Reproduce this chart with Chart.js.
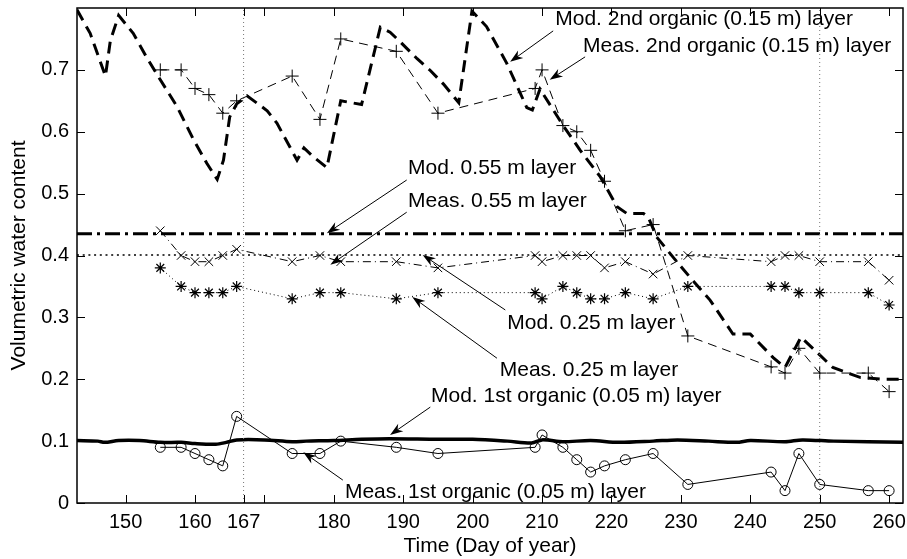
<!DOCTYPE html>
<html>
<head>
<meta charset="utf-8">
<script src="https://cdn.jsdelivr.net/npm/chart.js@4/dist/chart.umd.min.js"></script>
<style>
  html, body { margin: 0; padding: 0; background: #fff; }
  #wrap { width: 907px; height: 559px; }
</style>
</head>
<body>
<div id="wrap"><canvas id="soil-chart" width="907" height="559"></canvas></div>
<script>
// --- data ---
const measDays = [155, 158, 160, 162, 164, 166, 174, 178, 181, 189, 195, 209, 210, 213, 215, 217, 219, 222, 226, 231, 243, 245, 247, 250, 257, 260];
const meas2nd = [0.70, 0.70, 0.67, 0.66, 0.63, 0.65, 0.69, 0.62, 0.75, 0.73, 0.63, 0.67, 0.70, 0.61, 0.60, 0.57, 0.52, 0.44, 0.45, 0.27, 0.22, 0.21, 0.25, 0.21, 0.21, 0.18];
const meas055 = [0.44, 0.40, 0.39, 0.39, 0.40, 0.41, 0.39, 0.40, 0.39, 0.39, 0.38, 0.40, 0.39, 0.40, 0.40, 0.40, 0.38, 0.39, 0.37, 0.40, 0.39, 0.40, 0.40, 0.39, 0.39, 0.36];
const meas025 = [0.38, 0.35, 0.34, 0.34, 0.34, 0.35, 0.33, 0.34, 0.34, 0.33, 0.34, 0.34, 0.33, 0.35, 0.34, 0.33, 0.33, 0.34, 0.33, 0.35, 0.35, 0.35, 0.34, 0.34, 0.34, 0.32];
const meas1st = [0.09, 0.09, 0.08, 0.07, 0.06, 0.14, 0.08, 0.08, 0.10, 0.09, 0.08, 0.09, 0.11, 0.09, 0.07, 0.05, 0.06, 0.07, 0.08, 0.03, 0.05, 0.02, 0.08, 0.03, 0.02, 0.02];

const mod2Days = [143, 144.9, 146.3, 147.1, 147.8, 149, 151.1, 153, 155, 157.4, 159.8, 161.7, 163.2, 164.1, 165, 166, 167.5, 170.4, 171.8, 174.7, 175.7, 177, 179, 181, 184, 186.7, 188.1, 189.6, 192, 193.9, 195.8, 198, 199.9, 202, 204.9, 207.8, 208.6, 209.7, 213.1, 215.5, 218.4, 220.8, 222.2, 224.6, 225.3, 226.5, 228.9, 231.3, 234.2, 237.5, 240, 243.3, 245, 247.3, 251.9, 255.8, 259, 262];
const mod2Vals = [0.797, 0.759, 0.715, 0.69, 0.747, 0.788, 0.759, 0.721, 0.684, 0.641, 0.587, 0.549, 0.523, 0.554, 0.624, 0.645, 0.658, 0.634, 0.614, 0.554, 0.574, 0.56, 0.542, 0.65, 0.644, 0.769, 0.761, 0.745, 0.718, 0.699, 0.677, 0.647, 0.795, 0.77, 0.711, 0.639, 0.635, 0.669, 0.609, 0.570, 0.527, 0.479, 0.468, 0.468, 0.462, 0.430, 0.397, 0.365, 0.328, 0.273, 0.273, 0.235, 0.219, 0.268, 0.219, 0.203, 0.2, 0.2];

const mod1Days = [143, 146, 147, 149, 152, 155, 158, 160, 163, 164.5, 166, 170, 174, 176, 180, 184, 188, 195, 200, 205, 208.5, 210, 213, 217, 221, 226, 229.5, 234, 238, 240, 245, 247.5, 252, 262];
const mod1Vals = [0.101, 0.100, 0.098, 0.101, 0.101, 0.098, 0.098, 0.096, 0.095, 0.098, 0.102, 0.102, 0.099, 0.100, 0.101, 0.103, 0.104, 0.103, 0.103, 0.100, 0.097, 0.102, 0.099, 0.101, 0.098, 0.100, 0.102, 0.100, 0.098, 0.101, 0.099, 0.102, 0.100, 0.098];

const mod055 = 0.435;
const mod025 = 0.401;
const dayRange = [143, 262];
const refDays = [167, 250];

const xTicks = [150, 160, 167, 170, 180, 190, 200, 210, 220, 230, 240, 250, 260];
const xHidden = [170];
const yTicks = [0, 0.1, 0.2, 0.3, 0.4, 0.5, 0.6, 0.7];

// text labels: text start (day, value), arrow start and arrow tip in data units
const notes = [
  { text: 'Mod. 2nd organic (0.15 m) layer', at: [211.9, 0.782], from: [211.6, 0.763], to: [205.4, 0.713] },
  { text: 'Meas. 2nd organic (0.15 m) layer', at: [215.9, 0.739], from: [216.2, 0.721], to: [211.1, 0.684] },
  { text: 'Mod. 0.55 m layer', at: [190.7, 0.541], from: [190.5, 0.522], to: [179.0, 0.436] },
  { text: 'Meas. 0.55 m layer', at: [190.7, 0.488], from: [190.5, 0.470], to: [179.5, 0.385] },
  { text: 'Mod. 0.25 m layer', at: [205.0, 0.291], from: [204.7, 0.312], to: [192.8, 0.401] },
  { text: 'Meas. 0.25 m layer', at: [203.9, 0.215], from: [203.5, 0.234], to: [191.3, 0.333] },
  { text: 'Mod. 1st organic (0.05 m) layer', at: [194.0, 0.173], from: [193.9, 0.155], to: [188.1, 0.110] },
  { text: 'Meas. 1st organic (0.05 m) layer', at: [181.6, 0.018], from: [181.3, 0.037], to: [175.6, 0.082] }
];

const FONT = "'Liberation Sans', Arial, Helvetica, sans-serif";

function pts(xs, ys) {
  return xs.map((x, i) => ({ x: x, y: ys[i] }));
}
function flat(v) {
  return [{ x: dayRange[0], y: v }, { x: dayRange[1], y: v }];
}

const datasets = [];

// vertical reference lines (dotted grey)
refDays.forEach(d => {
  datasets.push({
    data: [{ x: d, y: 0 }, { x: d, y: 0.8 }],
    borderColor: '#777', borderWidth: 1, borderDash: [1, 3],
    pointRadius: 0, showLine: true
  });
});

datasets.push({
  label: 'Mod. 0.55 m',
  data: flat(mod055),
  borderColor: '#000', borderWidth: 3, borderDash: [15, 5, 3, 5],
  pointRadius: 0, showLine: true
});
datasets.push({
  label: 'Mod. 0.25 m',
  data: flat(mod025),
  borderColor: '#000', borderWidth: 1.5, borderDash: [2, 3.7],
  pointRadius: 0, showLine: true
});
datasets.push({
  label: 'Mod. 1st organic',
  data: pts(mod1Days, mod1Vals),
  borderColor: '#000', borderWidth: 3.5, tension: 0.3,
  pointRadius: 0, showLine: true
});
datasets.push({
  label: 'Mod. 2nd organic',
  data: pts(mod2Days, mod2Vals),
  borderColor: '#000', borderWidth: 3, borderDash: [12, 7],
  pointRadius: 0, showLine: true
});
datasets.push({
  label: 'Meas. 2nd organic',
  data: pts(measDays, meas2nd),
  borderColor: '#000', borderWidth: 1, borderDash: [9, 6],
  pointStyle: 'cross', pointRadius: 6.5, pointBorderWidth: 1, pointBorderColor: '#000',
  showLine: true
});
datasets.push({
  label: 'Meas. 0.55 m',
  data: pts(measDays, meas055),
  borderColor: '#000', borderWidth: 1, borderDash: [8, 4, 1, 4],
  pointStyle: 'crossRot', pointRadius: 6, pointBorderWidth: 1, pointBorderColor: '#000',
  showLine: true
});
datasets.push({
  label: 'Meas. 0.25 m',
  data: pts(measDays, meas025),
  borderColor: '#000', borderWidth: 1, borderDash: [1, 3],
  pointStyle: 'star', pointRadius: 5.5, pointBorderWidth: 1.2, pointBorderColor: '#000',
  showLine: true
});
datasets.push({
  label: 'Meas. 1st organic',
  data: pts(measDays, meas1st),
  borderColor: '#000', borderWidth: 1,
  pointStyle: 'circle', pointRadius: 5, pointBorderWidth: 1, pointBorderColor: '#000',
  pointBackgroundColor: 'rgba(0,0,0,0)',
  showLine: true
});

// box, inward ticks and the arrow labels
const framePlugin = {
  id: 'frame',
  afterDatasetsDraw(chart) {
    const ctx = chart.ctx;
    const a = chart.chartArea;
    const xs = chart.scales.x, ys = chart.scales.y;
    const tl = 8;
    ctx.save();
    ctx.strokeStyle = '#000';
    ctx.lineWidth = 1;
    xTicks.forEach(v => {
      const px = Math.round(xs.getPixelForValue(v)) + 0.5;
      ctx.beginPath();
      ctx.moveTo(px, a.bottom); ctx.lineTo(px, a.bottom - tl);
      ctx.moveTo(px, a.top); ctx.lineTo(px, a.top + tl);
      ctx.stroke();
    });
    yTicks.forEach(v => {
      const py = Math.round(ys.getPixelForValue(v)) + 0.5;
      ctx.beginPath();
      ctx.moveTo(a.left, py); ctx.lineTo(a.left + tl, py);
      ctx.moveTo(a.right, py); ctx.lineTo(a.right - tl, py);
      ctx.stroke();
    });
    ctx.lineWidth = 1.5;
    ctx.strokeRect(a.left, a.top, a.right - a.left, a.bottom - a.top);

    // notes
    ctx.fillStyle = '#000';
    ctx.font = '21px ' + FONT;
    ctx.textAlign = 'left';
    ctx.textBaseline = 'middle';
    notes.forEach(n => {
      ctx.fillText(n.text, xs.getPixelForValue(n.at[0]), ys.getPixelForValue(n.at[1]));
      const x0 = xs.getPixelForValue(n.from[0]), y0 = ys.getPixelForValue(n.from[1]);
      const x1 = xs.getPixelForValue(n.to[0]), y1 = ys.getPixelForValue(n.to[1]);
      const ang = Math.atan2(y1 - y0, x1 - x0);
      const hl = 13, hw = 4.5;
      ctx.lineWidth = 1;
      ctx.beginPath();
      ctx.moveTo(x0, y0);
      ctx.lineTo(x1 - Math.cos(ang) * hl * 0.6, y1 - Math.sin(ang) * hl * 0.6);
      ctx.stroke();
      ctx.beginPath();
      ctx.moveTo(x1, y1);
      ctx.lineTo(x1 - Math.cos(ang) * hl - Math.sin(ang) * hw, y1 - Math.sin(ang) * hl + Math.cos(ang) * hw);
      ctx.lineTo(x1 - Math.cos(ang) * hl * 0.7, y1 - Math.sin(ang) * hl * 0.7);
      ctx.lineTo(x1 - Math.cos(ang) * hl + Math.sin(ang) * hw, y1 - Math.sin(ang) * hl - Math.cos(ang) * hw);
      ctx.closePath();
      ctx.fill();
    });
    ctx.restore();
  }
};

new Chart(document.getElementById('soil-chart').getContext('2d'), {
  type: 'scatter',
  data: { datasets: datasets },
  options: {
    responsive: false,
    animation: false,
    layout: { autoPadding: false, padding: { left: 0, right: 4, top: 8, bottom: 0 } },
    plugins: { legend: { display: false }, tooltip: { enabled: false } },
    scales: {
      x: {
        type: 'linear', min: dayRange[0], max: dayRange[1],
        afterBuildTicks: s => { s.ticks = xTicks.map(v => ({ value: v })); },
        afterFit: s => { s.height = 56; s.paddingLeft = 0; s.paddingRight = 0; },
        grid: { display: false, drawTicks: false },
        border: { display: false },
        ticks: {
          color: '#000', padding: 7, autoSkip: false, maxRotation: 0,
          font: { family: FONT, size: 20 },
          callback: v => xHidden.includes(v) ? '' : String(v)
        },
        title: { display: true, text: 'Time (Day of year)', color: '#000', padding: { top: 2, bottom: 0 }, font: { family: FONT, size: 21 } }
      },
      y: {
        type: 'linear', min: 0, max: 0.8,
        afterBuildTicks: s => { s.ticks = yTicks.map(v => ({ value: v })); },
        afterFit: s => { s.width = 77; s.paddingTop = 0; s.paddingBottom = 0; },
        grid: { display: false, drawTicks: false },
        border: { display: false },
        ticks: {
          color: '#000', padding: 8,
          font: { family: FONT, size: 20 },
          callback: v => v === 0 ? '0' : v.toFixed(1)
        },
        title: { display: true, text: 'Volumetric water content', color: '#000', padding: { top: 7, bottom: 0 }, font: { family: FONT, size: 21 } }
      }
    }
  },
  plugins: [framePlugin]
});
</script>
</body>
</html>
